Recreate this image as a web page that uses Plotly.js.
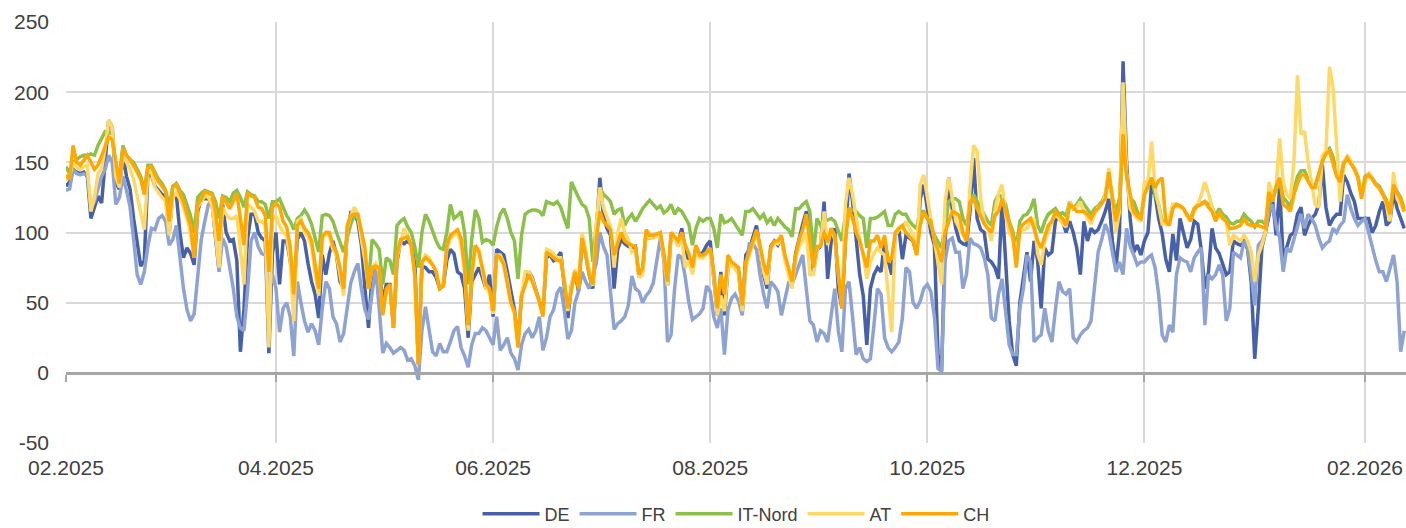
<!DOCTYPE html>
<html>
<head>
<meta charset="utf-8">
<script src="https://cdn.plot.ly/plotly-3.0.1.min.js"></script>
<style>html,body{margin:0;padding:0;background:#fff;}#chart{width:1406px;height:528px;}</style>
</head>
<body>
<div id="chart"></div>
<script>
// Daily series, first day 01.02.2025
const startDate = [2025, 1, 1];
const seriesNames = ['DE', 'FR', 'IT-Nord', 'AT', 'CH'];
const xTickFormat = '%m.%Y';
const yTickVals = [-50, 0, 50, 100, 150, 200, 250];
const yTickText = ['-50', '0', '50', '100', '150', '200', '250'];

const DE = [
133,136,145,143,142,143,140,110,118,126,121,150,180,175,135,131,155,140,131,110,92,76,80,141,141,133,130,127,126,100,127,127,100,82,89,85,77,115,124,124,124,122,100,73,120,100,94,95,80,15,45,95,113,113,
100,96,94,14,85,100,63,94,94,80,56,95,100,94,78,65,56,39,84,70,85,94,84,65,60,100,114,113,108,91,60,32,70,75,72,51,63,63,32,79,94,92,94,91,80,6,76,75,72,72,68,60,62,
80,88,85,72,70,60,25,65,70,75,68,60,70,40,88,86,84,72,60,45,22,55,65,72,68,60,50,42,82,84,80,82,86,62,39,62,72,58,94,85,70,60,100,139,112,103,98,60,88,95,92,90,89,90,
68,72,100,96,97,98,98,82,62,98,95,92,103,88,80,72,90,84,86,91,94,70,41,72,41,75,77,76,72,44,84,88,96,105,88,70,60,90,94,91,96,82,72,62,85,96,106,115,108,72,88,
90,122,67,94,103,60,46,100,142,122,94,70,55,20,60,70,75,72,94,80,70,98,103,81,98,96,94,85,124,134,115,100,91,13,1,94,139,117,103,94,92,91,115,153,110,102,100,81,79,75,67,122,80,37,13,
5,50,70,86,65,94,80,46,89,84,86,108,113,108,100,108,100,89,70,108,94,103,100,102,108,115,124,94,75,100,222,150,110,86,91,84,94,100,134,127,110,99,81,72,99,80,110,99,89,95,108,106,87,60,
72,103,89,85,77,70,72,94,92,91,94,88,65,10,46,89,100,112,124,98,132,81,89,98,100,113,118,98,105,110,113,120,148,118,105,110,113,113,141,136,128,122,110,110,110,110,100,105,115,122,105,108,129,117,110,103
];

const FR = [
130,131,145,142,141,142,141,118,122,130,140,145,155,150,120,125,140,130,118,95,70,63,72,90,103,102,110,112,108,91,95,105,80,60,45,37,42,70,95,108,120,122,95,72,96,90,75,60,40,32,30,58,94,100,
90,85,84,58,70,60,29,46,50,40,12,65,50,37,29,35,30,20,46,65,60,40,35,22,28,47,64,72,78,60,45,38,55,75,46,14,21,18,14,16,18,16,9,10,5,-5,30,47,30,15,12,21,15,
15,22,30,33,18,12,4,20,28,28,32,30,25,20,40,16,20,25,14,10,2,20,28,31,25,30,40,16,25,40,45,57,61,45,24,30,50,58,72,65,60,70,78,100,90,84,60,31,35,37,40,48,69,60,
58,50,55,58,64,80,96,80,22,27,60,84,82,68,50,38,40,42,46,62,58,40,32,46,13,45,53,56,51,41,75,92,92,88,70,56,46,65,62,58,41,52,64,63,70,78,84,60,37,34,22,
30,28,22,41,60,30,15,60,65,40,13,18,10,8,10,34,60,56,25,18,15,18,22,39,75,72,50,46,51,60,63,58,40,3,1,80,94,96,86,86,60,70,96,92,91,89,82,70,39,37,56,67,41,20,13,
13,46,60,84,79,22,25,27,46,30,22,45,65,58,56,60,25,22,27,30,32,37,60,86,95,106,100,85,72,79,70,103,90,84,77,79,79,82,84,75,56,27,22,34,29,70,82,80,79,72,82,86,89,34,
70,67,70,77,70,37,46,86,84,82,94,89,70,48,91,94,100,115,120,105,96,72,89,86,95,103,113,103,113,110,105,96,89,92,94,103,100,105,108,127,117,110,105,108,110,100,89,80,72,72,65,75,84,65,15,30
];

const IT_NORD = [
147,142,150,152,154,155,155,156,155,162,167,172,172,170,145,140,162,155,152,150,145,140,130,148,148,143,138,135,130,118,133,135,130,127,120,112,100,125,128,130,129,128,122,110,126,125,122,128,130,125,118,129,127,126,
122,122,120,110,122,122,124,118,112,108,102,110,112,116,112,106,95,86,112,113,112,108,100,92,86,96,106,112,110,100,80,63,95,92,88,63,82,80,70,105,108,110,104,100,90,75,100,113,108,100,94,89,88,
100,120,110,112,115,100,63,95,116,110,93,95,94,91,104,113,117,110,100,94,67,98,113,115,116,116,115,112,122,121,120,122,118,110,103,136,130,125,120,118,110,79,105,132,127,125,122,113,116,117,105,110,113,108,
112,117,120,123,120,117,119,114,116,120,113,117,115,110,106,91,103,110,108,110,110,103,89,113,107,108,110,106,102,98,115,115,117,113,110,113,107,110,105,110,107,104,102,97,117,117,120,122,115,84,110,
105,108,109,110,108,100,94,113,117,116,115,112,110,89,110,110,111,113,115,105,105,113,115,113,113,108,105,103,115,115,110,105,98,93,89,105,122,124,124,122,110,105,120,127,122,117,113,108,105,122,127,125,120,108,101,
89,108,112,113,117,124,105,100,108,113,115,117,113,114,112,122,117,120,124,120,117,113,117,119,122,127,139,124,115,124,170,140,124,122,115,110,127,133,139,127,120,108,106,108,120,120,119,117,112,110,117,120,121,122,
120,118,112,117,113,111,107,106,108,108,113,110,108,104,108,108,106,120,125,130,137,125,122,118,130,140,144,144,138,134,134,142,152,158,160,154,142,138,150,154,150,146,140,126,140,142,139,135,133,128,123,115,135,129,125,117
];

const AT = [
137,140,150,146,145,147,148,115,125,142,145,160,180,175,140,132,155,150,145,138,125,112,102,143,143,132,128,125,122,98,125,128,124,118,110,100,82,118,122,126,125,120,100,75,118,113,110,110,112,85,63,120,118,115,
108,108,105,18,110,112,105,100,98,80,37,108,110,100,97,90,70,55,95,100,98,88,84,70,55,103,112,118,113,95,80,60,75,78,72,42,58,62,33,82,93,103,98,90,68,6,78,84,82,77,72,60,62,
88,96,98,100,92,72,30,68,90,88,72,60,58,42,84,84,78,66,50,42,20,55,72,72,67,58,50,42,88,87,85,82,82,66,44,62,74,62,100,88,72,62,105,132,118,110,104,75,100,110,100,95,86,88,
68,70,100,96,96,97,98,82,62,98,95,90,96,75,80,70,88,82,82,85,88,68,41,55,44,75,77,74,70,44,75,84,93,100,88,72,63,88,93,92,96,80,70,60,82,90,94,100,70,70,88,
92,115,91,103,95,70,48,120,139,127,110,95,84,67,79,85,89,86,84,56,29,98,102,103,108,103,98,84,134,141,125,110,94,80,63,122,139,125,108,103,98,94,132,162,158,124,108,103,94,115,128,134,113,100,96,
86,100,102,103,108,110,85,77,94,100,108,113,110,106,104,122,117,118,122,115,110,106,113,118,120,127,146,120,100,115,207,143,117,113,110,108,136,136,165,132,120,106,106,110,120,120,118,117,112,108,115,120,127,136,
128,118,108,113,110,108,91,98,96,94,98,94,86,65,84,91,100,136,127,132,167,136,127,124,150,212,170,172,150,134,120,118,155,158,218,203,160,122,149,155,151,145,139,127,136,143,138,134,130,127,120,108,143,124,120,115
];

const CH = [
141,138,162,150,148,152,155,150,145,148,155,162,168,166,150,135,160,155,152,148,143,138,127,146,147,141,136,133,129,108,132,134,128,122,113,105,82,120,124,129,128,127,115,94,126,121,117,122,128,110,91,128,126,125,
118,117,112,72,118,121,118,108,104,90,56,105,108,103,100,94,78,60,97,100,100,91,86,75,60,105,112,113,113,100,89,60,75,76,75,41,60,63,32,84,95,96,97,91,70,6,79,82,80,77,72,60,62,
91,98,100,102,96,75,34,70,91,86,75,63,60,44,84,82,77,65,50,44,18,55,63,70,65,58,51,40,86,84,82,80,80,65,46,60,72,60,96,84,70,63,95,115,108,105,102,84,92,100,94,92,91,90,
70,75,102,98,98,99,100,85,65,100,97,94,100,91,85,75,91,84,84,86,89,72,46,70,56,84,79,77,75,48,79,86,95,102,91,78,70,89,94,94,98,84,75,65,84,95,102,113,94,75,90,
90,100,93,103,98,72,46,94,117,110,100,94,84,75,94,94,98,89,98,79,82,100,103,105,100,97,94,84,105,115,110,108,94,88,79,100,108,115,114,112,100,94,122,124,117,112,106,103,100,112,115,124,115,108,98,
75,103,106,108,110,103,94,89,97,105,108,115,112,110,105,120,118,115,115,115,113,110,115,117,121,124,143,127,108,120,170,140,127,115,112,110,127,133,139,132,137,139,108,105,117,120,119,117,112,108,117,119,120,122,
118,115,108,115,110,108,103,103,104,105,110,106,105,105,105,104,103,129,122,133,139,120,118,115,127,135,141,141,136,132,132,141,151,156,158,149,140,136,149,153,149,145,139,124,139,141,138,134,132,127,122,113,134,128,124,115
];

function pad(n){return (n<10?'0':'')+n;}
const dates = DE.map(function(_, i){
  const d = new Date(Date.UTC(startDate[0], startDate[1], startDate[2] + i));
  return d.getUTCFullYear() + '-' + pad(d.getUTCMonth()+1) + '-' + pad(d.getUTCDate());
});

const seriesData = [DE, FR, IT_NORD, AT, CH];
const colors = ['#4760A8', '#8FA3D2', '#8DC04B', '#FFD966', '#FFA800'];

const traces = seriesData.map(function(vals, k){
  return {
    type: 'scatter', mode: 'lines',
    x: dates, y: vals, name: seriesNames[k],
    line: {color: colors[k], width: 3.5, shape: 'linear'},
    hoverinfo: 'skip'
  };
});

const fontFam = 'Liberation Sans, Arial, sans-serif';
const layout = {
  width: 1406, height: 528,
  margin: {l: 66, r: 0, t: 22, b: 85, pad: 0, autoexpand: false},
  paper_bgcolor: '#ffffff', plot_bgcolor: '#ffffff',
  font: {family: fontFam, color: '#404040', size: 21},
  showlegend: true,
  legend: {
    orientation: 'h', x: 0.5, xanchor: 'center', y: -0.169, yanchor: 'middle',
    font: {family: fontFam, size: 18, color: '#404040'},
    traceorder: 'normal', itemwidth: 57
  },
  xaxis: {
    type: 'date',
    range: ['2025-02-01', '2026-02-12 12:00'],
    tick0: '2025-02-01', dtick: 'M2', tickformat: xTickFormat,
    showgrid: true, gridcolor: '#D9D9D9', gridwidth: 2,
    anchor: 'free', position: 50/300,
    showline: true, linecolor: '#A6A6A6', linewidth: 3,
    ticks: 'outside', ticklen: 7, tickwidth: 2, tickcolor: '#A6A6A6',
    ticklabelstandoff: 68,
    tickfont: {family: fontFam, size: 21, color: '#404040'},
    zeroline: false, fixedrange: true, automargin: false
  },
  yaxis: {
    range: [-50, 250], tickmode: 'array', tickvals: yTickVals, ticktext: yTickText,
    showgrid: true, gridcolor: '#D9D9D9', gridwidth: 2,
    zeroline: false, showline: false, ticks: '',
    ticklabelstandoff: 16,
    tickfont: {family: fontFam, size: 21, color: '#404040'},
    fixedrange: true, automargin: false
  }
};

Plotly.newPlot('chart', traces, layout, {displayModeBar: false, staticPlot: true});
</script>
</body>
</html>
